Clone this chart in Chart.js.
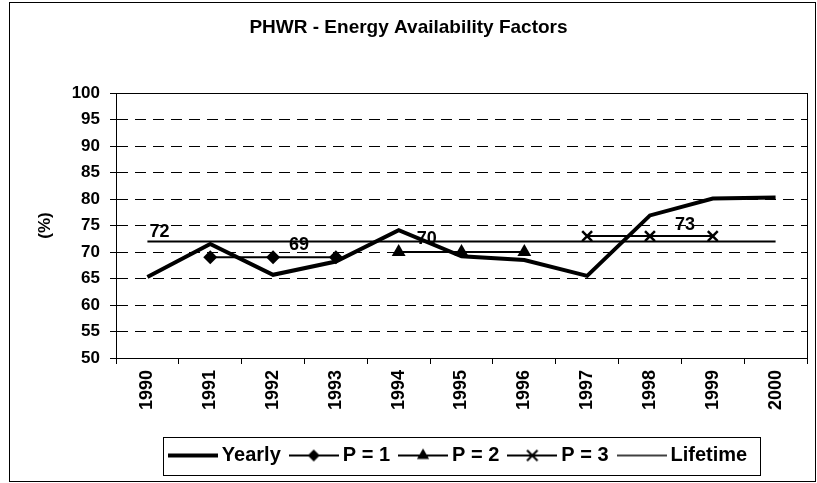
<!DOCTYPE html>
<html>
<head>
<meta charset="utf-8">
<script src="https://cdn.jsdelivr.net/npm/chart.js@4.4.0/dist/chart.umd.min.js"></script>
<style>
  html, body { margin: 0; padding: 0; background: #fff; }
</style>
</head>
<body>
<canvas id="myChart" width="817" height="483"></canvas>
<script>
// data
const years = ['1990', '1991', '1992', '1993', '1994', '1995', '1996', '1997', '1998', '1999', '2000'];
const yearly = [65.3, 71.5, 65.7, 68.2, 74.1, 69.2, 68.5, 65.5, 76.9, 80.1, 80.3];
const p1 = [null, 69, 69, 69, null, null, null, null, null, null, null];
const p2 = [null, null, null, null, 70, 70, 70, null, null, null, null];
const p3 = [null, null, null, null, null, null, null, 73, 73, 73, null];
const lifetime = [72, 72, 72, 72, 72, 72, 72, 72, 72, 72, 72];
const seriesNames = ['Yearly', 'P = 1', 'P = 2', 'P = 3', 'Lifetime'];

const FONT = "'Liberation Sans', Arial, sans-serif";

// small pictures for the legend: line + marker
function drawMarker(g, kind, x, y, r) {
  g.beginPath();
  if (kind === 'rectRot') {
    g.moveTo(x, y - r); g.lineTo(x + r, y); g.lineTo(x, y + r); g.lineTo(x - r, y); g.closePath(); g.fill();
  } else if (kind === 'triangle') {
    g.moveTo(x, y - r); g.lineTo(x + r * 0.87, y + r * 0.5); g.lineTo(x - r * 0.87, y + r * 0.5); g.closePath(); g.fill();
  } else if (kind === 'crossRot') {
    const d = r * 0.75;
    g.moveTo(x - d, y - d); g.lineTo(x + d, y + d); g.moveTo(x + d, y - d); g.lineTo(x - d, y + d); g.stroke();
  }
}
function sample(kind, lw, r) {
  const c = document.createElement('canvas');
  c.width = 50; c.height = 18;
  const g = c.getContext('2d');
  g.strokeStyle = '#000'; g.fillStyle = '#000'; g.lineWidth = lw;
  g.beginPath(); g.moveTo(0, 9); g.lineTo(50, 9); g.stroke();
  g.lineWidth = 2;
  if (kind) drawMarker(g, kind, 25, 9, r);
  return c;
}
const samples = [
  sample(null, 4, 0),
  sample('rectRot', 2, 6),
  sample('triangle', 2, 7),
  sample('crossRot', 2, 7),
  sample(null, 1.5, 0)
];

// value labels next to the P / lifetime lines
const valueLabels = [
  { ds: 4, i: 0, dx: 12, dy: -9 },
  { ds: 1, i: 2, dx: 26, dy: -12 },
  { ds: 2, i: 4, dx: 28, dy: -13 },
  { ds: 3, i: 8, dx: 35, dy: -11 }
];

const framePlugin = {
  id: 'frame',
  afterLayout(chart) {
    // legend in the reference sits right of centre
    chart.legend.left += 52;
    chart.legend.right += 52;
  },
  beforeDatasetsDraw(chart) {
    const { ctx, chartArea: a } = chart;
    ctx.save();
    ctx.strokeStyle = '#000';
    ctx.lineWidth = 1;
    ctx.strokeRect(Math.round(a.left) + 0.5, Math.round(a.top) + 0.5, Math.round(a.right - a.left), Math.round(a.bottom - a.top));
    ctx.restore();
  },
  afterDraw(chart) {
    const ctx = chart.ctx;
    ctx.save();
    ctx.strokeStyle = '#000';
    ctx.lineWidth = 1;
    // outer frame
    ctx.strokeRect(9.5, 2.5, 806, 479);
    // box round the legend
    const boxes = chart.legend.legendHitBoxes;
    if (boxes && boxes.length) {
      let l = Infinity, r = -Infinity;
      boxes.forEach(b => { l = Math.min(l, b.left); r = Math.max(r, b.left + b.width); });
      const cy = boxes[0].top + boxes[0].height / 2;
      ctx.strokeRect(Math.round(l - 11) + 0.5, Math.round(cy - 19) + 0.5, Math.round(r - l + 24), 38);
    }
    ctx.restore();
  }
};

const labelPlugin = {
  id: 'valueLabels',
  afterDatasetsDraw(chart) {
    const ctx = chart.ctx;
    ctx.save();
    ctx.fillStyle = '#000';
    ctx.font = 'bold 18px ' + FONT;
    ctx.textAlign = 'center';
    ctx.textBaseline = 'middle';
    valueLabels.forEach(v => {
      const pt = chart.getDatasetMeta(v.ds).data[v.i];
      const val = chart.data.datasets[v.ds].data[v.i];
      ctx.fillText(String(val), pt.x + v.dx, pt.y + v.dy);
    });
    ctx.restore();
  }
};

const ctx = document.getElementById('myChart').getContext('2d');
const myChart = new Chart(ctx, {
  type: 'line',
  data: {
    labels: years,
    datasets: [{
      label: seriesNames[0],
      data: yearly,
      borderColor: '#000',
      borderWidth: 4,
      pointRadius: 0,
      fill: false,
      order: 0
    }, {
      label: seriesNames[1],
      data: p1,
      borderColor: '#000',
      backgroundColor: '#000',
      borderWidth: 2,
      pointStyle: 'rectRot',
      pointRadius: 7,
      pointBorderWidth: 0,
      fill: false,
      order: 1
    }, {
      label: seriesNames[2],
      data: p2,
      borderColor: '#000',
      backgroundColor: '#000',
      borderWidth: 2,
      pointStyle: 'triangle',
      pointRadius: 8,
      pointBorderWidth: 0,
      fill: false,
      order: 2
    }, {
      label: seriesNames[3],
      data: p3,
      borderColor: '#000',
      backgroundColor: '#000',
      borderWidth: 2,
      pointStyle: 'crossRot',
      pointRadius: 7,
      pointBorderWidth: 2.5,
      fill: false,
      order: 3
    }, {
      label: seriesNames[4],
      data: lifetime,
      borderColor: '#000',
      borderWidth: 2,
      pointRadius: 0,
      fill: false,
      order: 4
    }]
  },
  options: {
    responsive: false,
    animation: false,
    layout: { padding: { left: 10, right: 10, top: 0, bottom: 7.5 } },
    plugins: {
      title: {
        display: true,
        text: 'PHWR - Energy Availability Factors',
        color: '#000',
        font: { family: FONT, size: 19, weight: 'bold' },
        padding: { top: 16, bottom: 54.2 }
      },
      legend: {
        position: 'bottom',
        labels: {
          usePointStyle: true,
          pointStyleWidth: 38,
          padding: 14,
          color: '#000',
          font: { family: FONT, size: 20, weight: 'bold' },
          generateLabels: (chart) => chart.data.datasets.map((ds, i) => ({
            text: ds.label,
            pointStyle: samples[i],
            fontColor: '#000',
            hidden: false,
            datasetIndex: i,
            lineWidth: 0,
            strokeStyle: 'rgba(0,0,0,0)',
            fillStyle: 'rgba(0,0,0,0)'
          }))
        }
      },
      tooltip: { enabled: false }
    },
    scales: {
      x: {
        offset: true,
        grid: { offset: true, drawOnChartArea: false, drawTicks: true, tickLength: 6, color: '#000' },
        border: { color: '#000', width: 1 },
        ticks: { minRotation: 90, maxRotation: 90, autoSkip: false, padding: 6, color: '#000',
                 font: { family: FONT, size: 18, weight: 'bold' } },
        afterFit: (s) => { s.height = 73.5; }
      },
      y: {
        min: 50,
        max: 100,
        ticks: { stepSize: 5, padding: 10, color: '#000', font: { family: FONT, size: 17, weight: 'bold' } },
        grid: { color: '#000', lineWidth: 1, tickLength: 6, tickBorderDash: [] },
        border: { color: '#000', width: 1, dash: [11, 7] },
        title: { display: true, text: '(%)', color: '#000', font: { family: FONT, size: 17, weight: 'bold' },
                 padding: { top: 25, bottom: 0 } },
        afterFit: (s) => { s.width = 106; }
      }
    }
  },
  plugins: [framePlugin, labelPlugin]
});
</script>
</body>
</html>
